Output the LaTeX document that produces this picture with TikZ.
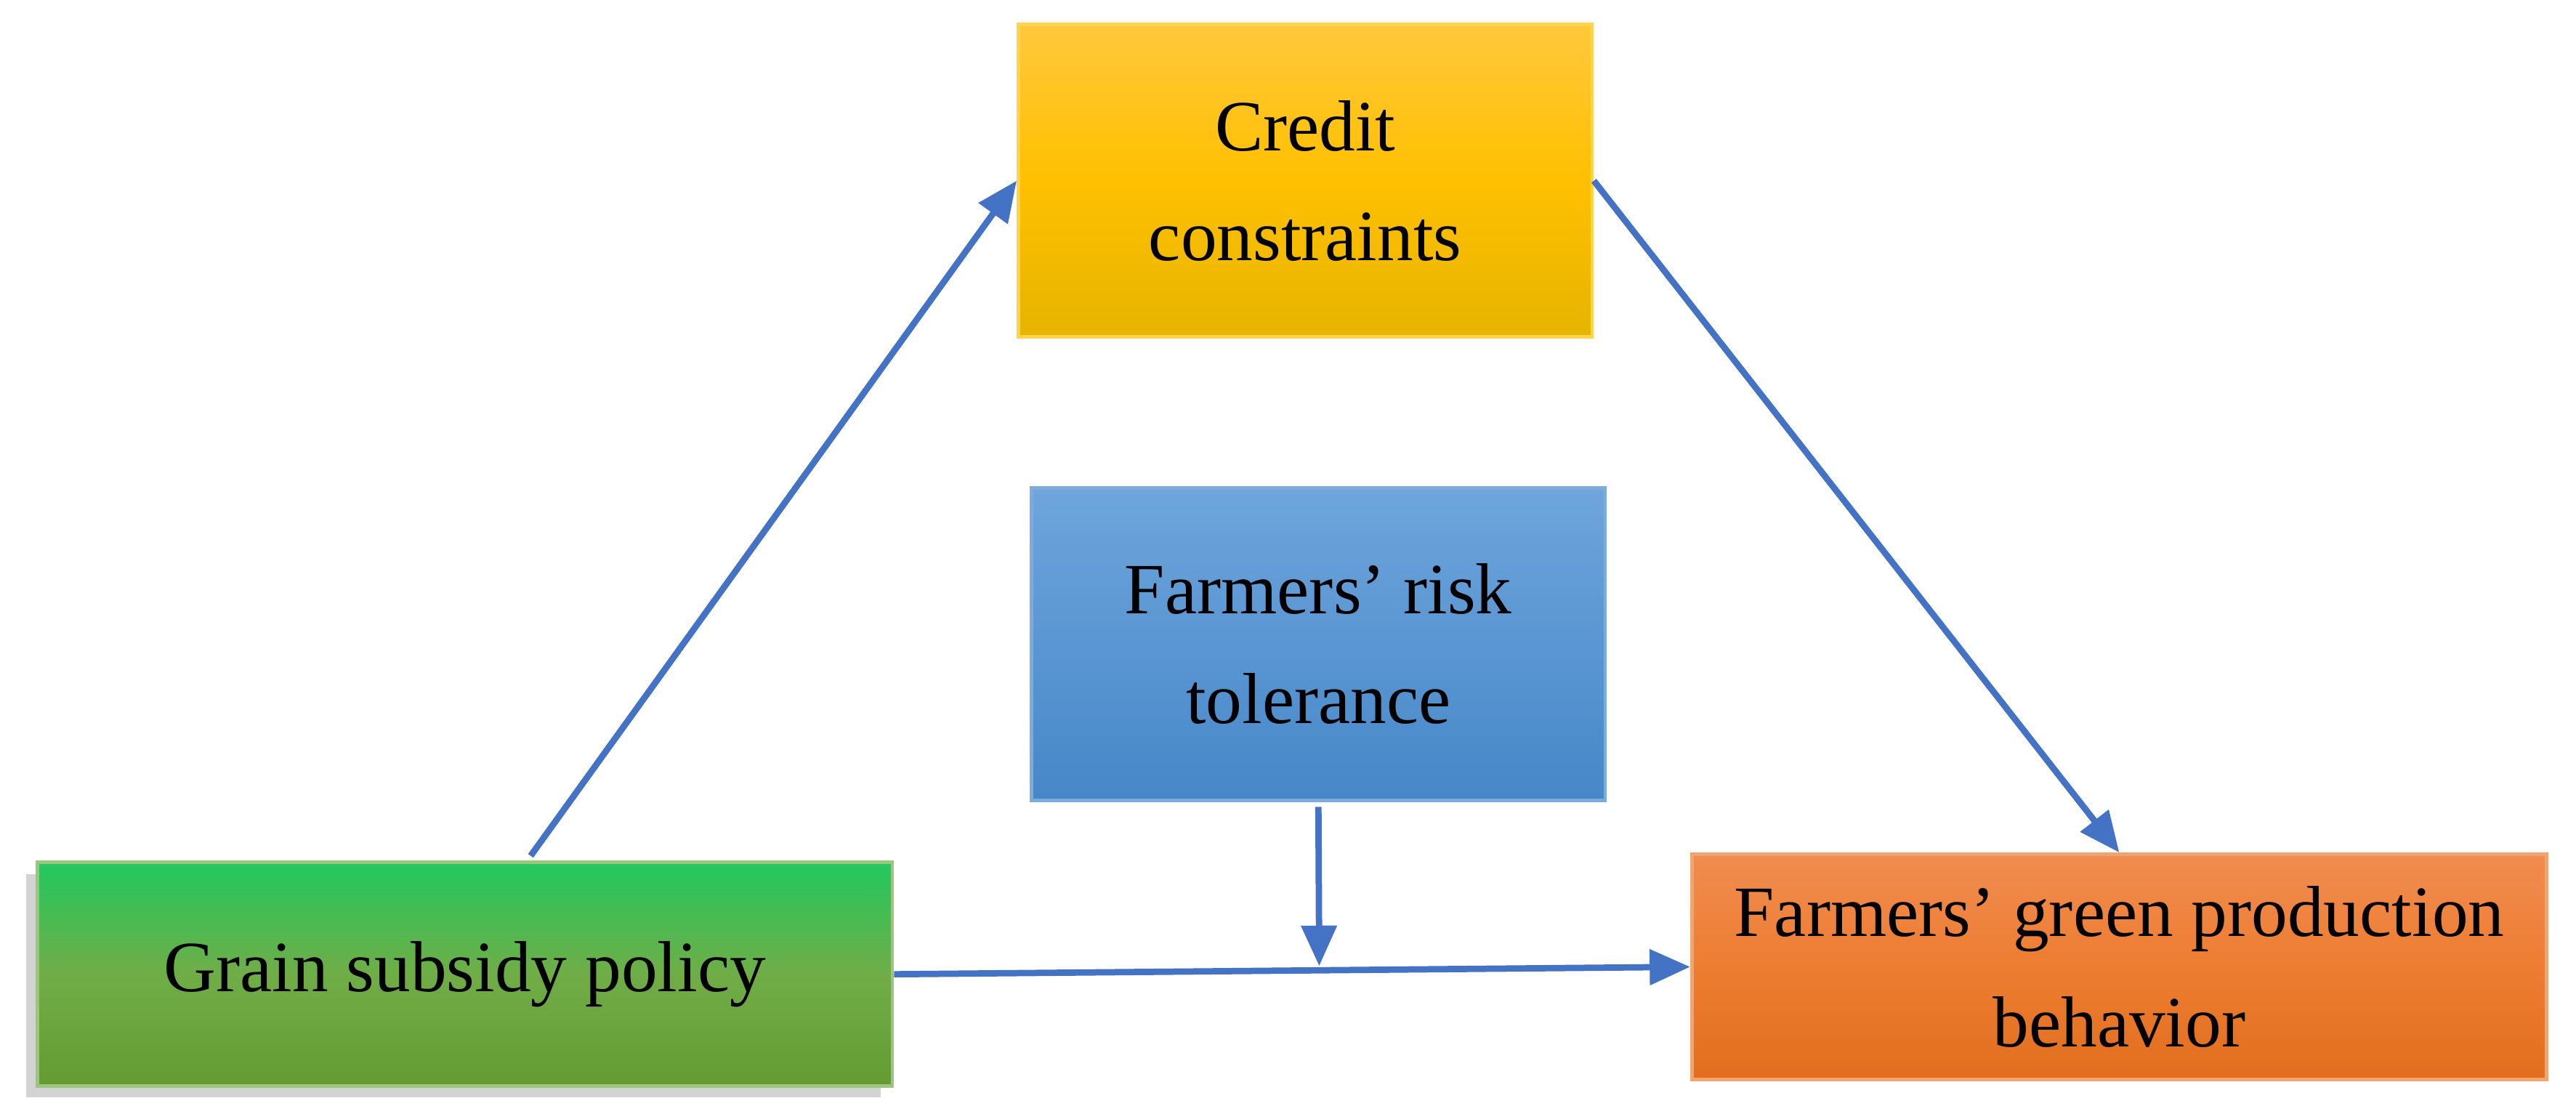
\documentclass[tikz,border=0pt]{standalone}
\usepackage{fontspec}
\setmainfont{Liberation Serif}
\usetikzlibrary{arrows.meta,shadows}
\begin{document}
\begin{tikzpicture}[x=0.01cm,y=-0.01cm,
  box/.style={draw=#1!70!white,line width=0.6pt,inner sep=0pt,align=center,font=\fontsize{12.5}{19}\selectfont},
  arr/.style={draw={rgb,255:red,68;green,114;blue,196},line width=1.1pt,-{Triangle[length=7pt,width=6pt]}}]
\useasboundingbox (0,0) rectangle (1568,678);
\definecolor{yel1}{RGB}{255,200,60}\definecolor{yel2}{RGB}{255,192,0}\definecolor{yel3}{RGB}{230,180,0}
\definecolor{blu1}{RGB}{110,165,220}\definecolor{blu2}{RGB}{70,135,200}
\definecolor{gre1}{RGB}{34,200,95}\definecolor{gre2}{RGB}{112,173,71}\definecolor{gre3}{RGB}{100,155,50}
\definecolor{ora1}{RGB}{240,140,80}\definecolor{ora2}{RGB}{237,125,49}\definecolor{ora3}{RGB}{225,110,30}
\node[box=yel2,minimum width=349\pgflinewidth,top color=yel1,bottom color=yel3,middle color=yel2,
  minimum width=3.49cm,minimum height=1.9cm] (c) at (794.5,110) {Credit\\constraints};
\node[box=blu2,top color=blu1,bottom color=blu2,minimum width=3.49cm,minimum height=1.9cm] (r) at (802.5,392) {Farmers’ risk\\tolerance};
\node[box=gre2,top color=gre1,bottom color=gre3,middle color=gre2,minimum width=5.2cm,minimum height=1.36cm,
  drop shadow={shadow xshift=-2pt,shadow yshift=-2pt,opacity=0.35}] (g) at (283,593) {Grain subsidy policy};
\node[box=ora2,top color=ora1,bottom color=ora3,middle color=ora2,minimum width=5.2cm,minimum height=1.37cm] (f) at (1290,588.5) {Farmers’ green production\\behavior};
\coordinate (m) at (803,588);
\draw[arr] ([xshift=0.4cm,yshift=0.03cm]g.north) -- ([yshift=0cm]c.west);
\draw[arr] (c.east) -- (f.north);
\draw[arr] (g.east) -- (f.west);
\draw[arr] ([yshift=-0.03cm]r.south) -- (m);
\end{tikzpicture}
\end{document}
